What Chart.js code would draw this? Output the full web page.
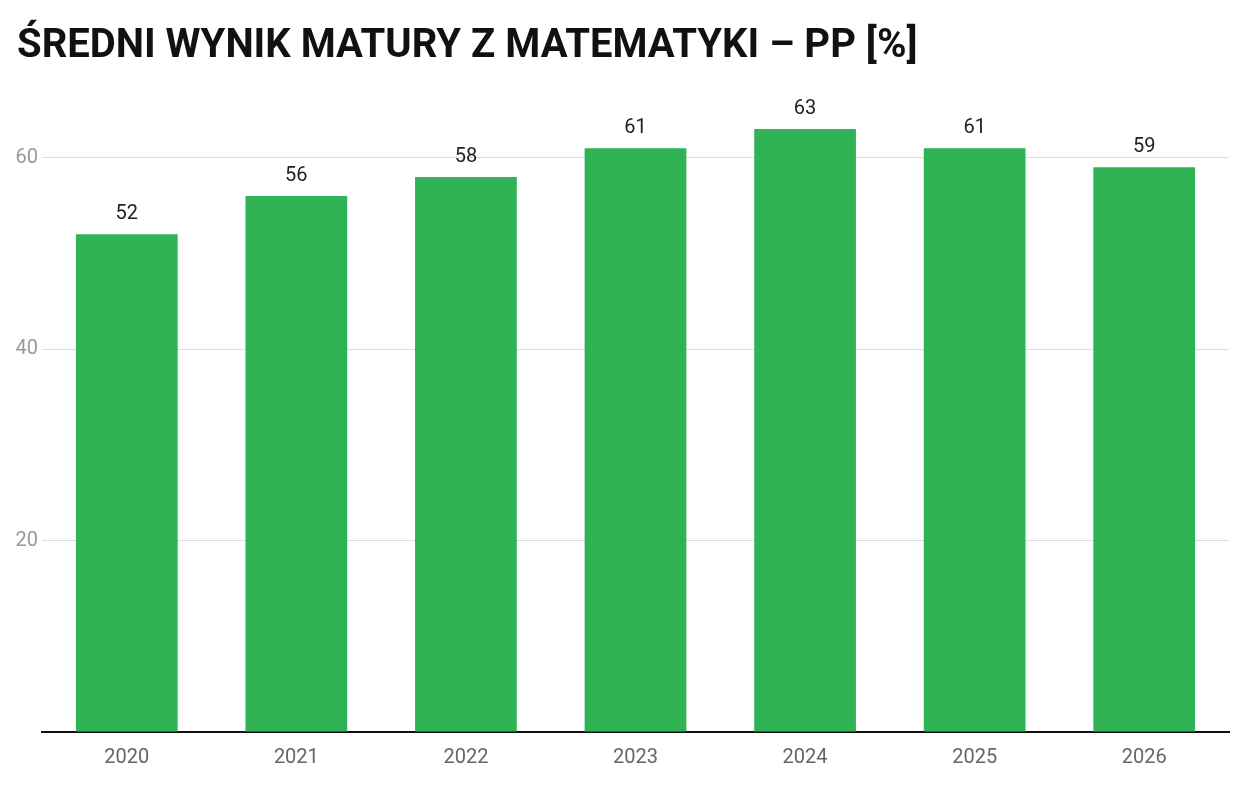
<!DOCTYPE html>
<html><head><meta charset="utf-8">
<script src="https://cdn.jsdelivr.net/npm/chart.js@4"></script>
<style>
html,body{margin:0;padding:0;background:#fff;}
#t{position:absolute;left:17px;top:20px;font:bold 40px Roboto,sans-serif;color:#111;white-space:nowrap;}
#w{position:absolute;left:0;top:0;width:1235px;height:798px;}
</style></head><body>
<div id="w"><canvas id="c"></canvas></div>
<div id="t">ŚREDNI WYNIK MATURY Z MATEMATYKI – PP [%]</div>
<script>
const categories=['2020','2021','2022','2023','2024','2025','2026'];
const values=[52,56,58,61,63,61,59];
const yTicks=[0,20,40,60];
const labelPlugin={id:'lbl',afterDatasetsDraw(ch){const ctx=ch.ctx;const m=ch.getDatasetMeta(0);ctx.save();ctx.font='20px Roboto';ctx.fillStyle='#222';ctx.textAlign='center';ctx.textBaseline='bottom';m.data.forEach((b,i)=>ctx.fillText(values[i],b.x,b.y-10));ctx.restore();}};
new Chart(document.getElementById('c'),{type:'bar',
data:{labels:categories,datasets:[{data:values,backgroundColor:'#2fb355',barPercentage:0.6,categoryPercentage:1}]},
options:{responsive:true,maintainAspectRatio:false,animation:false,
layout:{padding:{top:85,right:6,bottom:22,left:0}},
plugins:{legend:{display:false},tooltip:{enabled:false}},
scales:{
x:{grid:{display:false},border:{color:'#111',width:2},ticks:{color:'#666',font:{family:'Roboto',size:20},padding:6}},
y:{min:0,max:67.6,afterBuildTicks(a){a.ticks=yTicks.map(v=>({value:v}));},afterFit(a){a.width=42;},
grid:{color:'#ddd',drawTicks:false},border:{display:false},
ticks:{color:'#999',font:{family:'Roboto',size:20},padding:4,callback:v=>v===0?'':v}}}},
plugins:[labelPlugin]});
</script></body></html>
